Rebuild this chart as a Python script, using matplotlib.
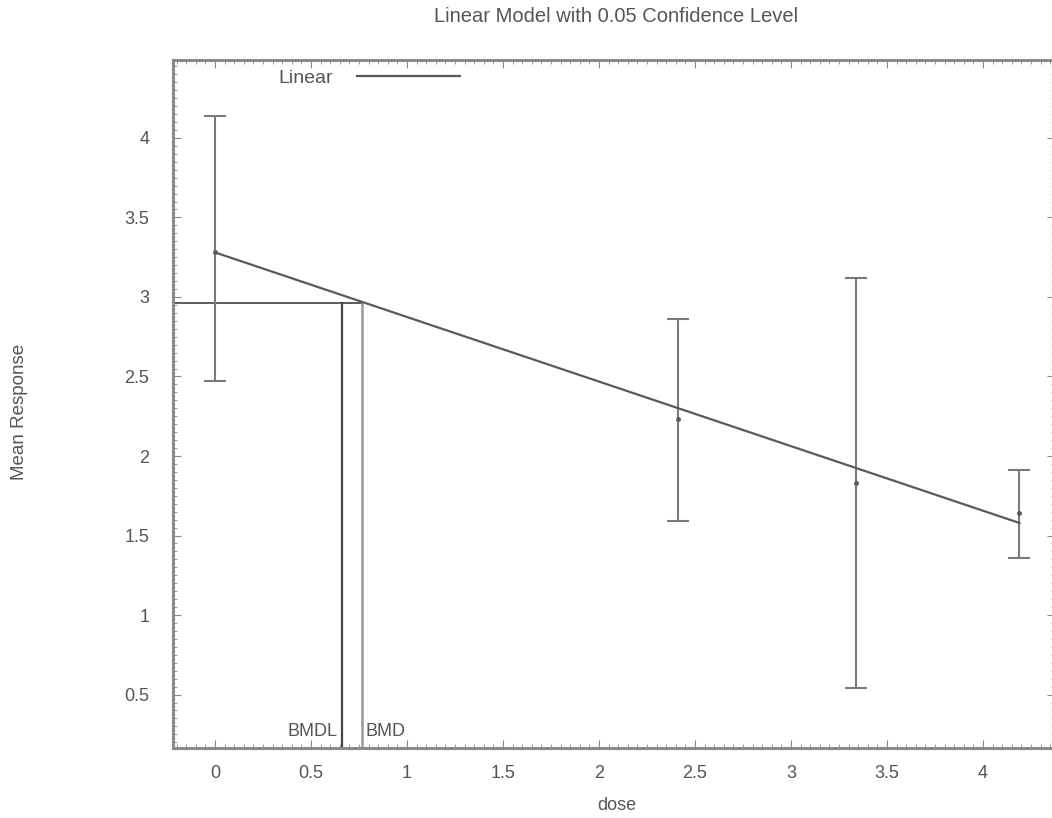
import matplotlib
matplotlib.use("Agg")
import matplotlib.pyplot as plt
from matplotlib.ticker import MultipleLocator
import numpy as np

# Observed group data
doses = [0.0, 2.41, 3.34, 4.19]
means = [3.28, 2.23, 1.83, 1.64]
upper = [4.14, 2.86, 3.12, 1.91]
lower = [2.47, 1.59, 0.54, 1.36]

# Fitted linear model
intercept = 3.28
slope = -0.406

# Benchmark dose results
bmr_level = 2.96
bmd = 0.766
bmdl = 0.66

title = "Linear Model with 0.05 Confidence Level"
xlabel = "dose"
ylabel = "Mean Response"
xticks = [0, 0.5, 1, 1.5, 2, 2.5, 3, 3.5, 4]
yticks = [0.5, 1, 1.5, 2, 2.5, 3, 3.5, 4]

ink = "#5a5a5a"
txt = "#555555"
plt.rcParams["font.family"] = ["Liberation Sans", "DejaVu Sans"]

fig = plt.figure(figsize=(10.52, 8.18), dpi=100)
ax = fig.add_axes([173 / 1052, 70 / 818, 882 / 1052, 688 / 818])
ax.set_xlim(-0.219, 4.375)
ax.set_ylim(0.164, 4.49)

# error bars and means
d = np.array(doses)
m = np.array(means)
yerr = [m - np.array(lower), np.array(upper) - m]
ax.errorbar(d, m, yerr=yerr, fmt="o", ms=2.5, color=ink, ecolor="#7a7a7a",
            elinewidth=1.5, capsize=8, capthick=1.5, zorder=3)

# fitted line
xs = np.array([0.0, doses[-1]])
ax.plot(xs, intercept + slope * xs, color=ink, lw=1.6, label="Linear", zorder=4)

# BMD / BMDL markers
ymin = ax.get_ylim()[0]
ax.plot([ax.get_xlim()[0], bmd], [bmr_level, bmr_level], color=ink, lw=1.4)
ax.plot([bmdl, bmdl], [ymin, bmr_level], color="#444444", lw=1.6)
ax.plot([bmd, bmd], [ymin, bmr_level], color="#9a9a9a", lw=1.8)
ax.text(bmdl - 0.02, ymin + 0.05, "BMDL", ha="right", va="bottom", fontsize=13, color=txt)
ax.text(bmd + 0.02, ymin + 0.05, "BMD", ha="left", va="bottom", fontsize=13, color=txt)

ax.set_xticks(xticks)
ax.set_xticklabels([f"{t:g}" for t in xticks])
ax.set_yticks(yticks)
ax.set_yticklabels([f"{t:g}" for t in yticks])
ax.xaxis.set_minor_locator(MultipleLocator(0.05))
ax.yaxis.set_minor_locator(MultipleLocator(0.05))
ax.tick_params(which="both", direction="in", top=True, right=True, colors="#8a8a8a",
               labelcolor=txt, labelsize=13)
ax.tick_params(which="major", length=6)
ax.tick_params(axis="y", which="major", pad=17)
ax.tick_params(axis="x", which="major", pad=12)
ax.tick_params(which="minor", length=3)
for s in ax.spines.values():
    s.set_color("#8a8a8a")
    s.set_linewidth(2.2)
    s.set_linestyle((0, (3, 1)))

fig.text(617 / 1052, 1 - 806 / 818, xlabel, ha="center", va="center", fontsize=13, color=txt)
fig.text(20 / 1052, 1 - 412 / 818, ylabel, ha="center", va="center", rotation=90,
         fontsize=13.5, color=txt)
fig.text(616 / 1052, 1 - 17 / 818, title, ha="center", va="center", fontsize=14.5, color=txt)

leg = ax.legend(loc="upper left", bbox_to_anchor=(0.1, 1.012), frameon=False,
                fontsize=14, handlelength=5.3, handletextpad=1.2,
                markerfirst=False, labelcolor=txt)

fig.savefig("out.png", dpi=100)
